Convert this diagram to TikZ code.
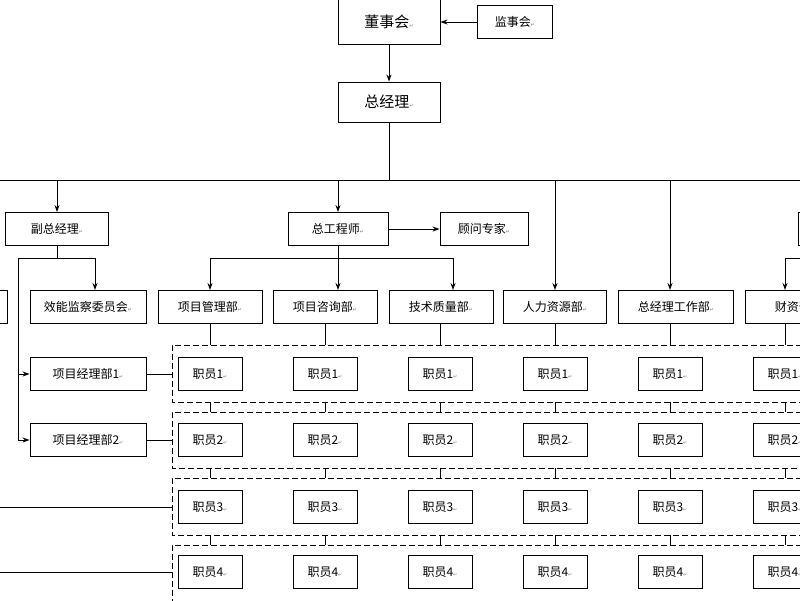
\documentclass[tikz,border=0pt]{standalone}
\usepackage{fontspec}
\setmainfont{Noto Sans CJK SC}
\newfontfamily\djv{DejaVu Sans}
\usetikzlibrary{arrows.meta}
\newcommand{\rt}{{\djv\tiny\color{gray}↵}}
\begin{document}
\begin{tikzpicture}[x=1pt,y=-1pt,
  bx/.style={draw,line width=0.9pt,minimum height=33pt,inner sep=0pt,font=\fontsize{12}{12}\selectfont,fill=white},
  big/.style={bx,minimum width=102pt,minimum height=40pt,font=\fontsize{15}{15}\selectfont},
  ln/.style={line width=0.9pt},
  ar/.style={ln,-{Stealth[length=7pt,width=5pt]}},
  dsh/.style={line width=0.9pt,dash pattern=on 6pt off 3pt}]
\useasboundingbox (0,0) rectangle (800,600);
% dashed rows
\foreach \a/\b in {345/402,412/468,478/535,545/605}
  \draw[dsh] (820,\a) -- (172,\a) -- (172,\b) -- (820,\b);
\node[big,minimum height=45pt] (dsh) at (389,22) {董事会\rt};
\node[bx,minimum width=75pt] (jsh) at (515,22) {监事会\rt};
\node[big] (zjl) at (389,102) {总经理\rt};
\draw[ar] (jsh) -- (dsh);
\draw[ar] (dsh) -- (zjl);
\coordinate (t) at (389,180);
\draw[ln] (zjl) -- (t);
\draw[ln] (-5,180) -- (810,180);
\node[bx,minimum width=103pt] (fz) at (57,229) {副总经理\rt};
\node[bx,minimum width=100pt] (zgc) at (338,229) {总工程师\rt};
\node[bx,minimum width=88pt] (gw) at (484,229) {顾问专家\rt};
\node[bx,minimum width=40pt] (rx) at (818,229) {};
\draw[ar] (57,180) -- (fz);
\draw[ar] (338,180) -- (zgc);
\draw[ar] (zgc) -- (gw);
\draw[ln] (800,180) -- (800,212);
% departments
\node[bx,minimum width=116pt] (xn) at (88,307) {效能监察委员会\rt};
\node[bx,minimum width=20pt] (lx) at (-3,307) {};
\foreach \n/\x/\w/\t in {d1/210/104/项目管理部,d2/325/104/项目咨询部,d3/441/104/技术质量部,d4/555/103/人力资源部,d5/676/115/总经理工作部,d6/795/100/财资部}
  \node[bx,minimum width=\w pt] (\n) at (\x,307) {\t\rt};
\draw[ln] (fz) -- (57,258);
\draw[ln] (18,258) -- (95,258);
\draw[ar] (95,258) -- (95,290);
\draw[ln] (18,258) -- (18,440);
\node[bx,minimum width=116pt] (p1) at (88,374) {项目经理部1\rt};
\node[bx,minimum width=116pt] (p2) at (88,440) {项目经理部2\rt};
\draw[ar] (18,374) -- (p1);
\draw[ar] (18,440) -- (p2);
\draw[ln] (zgc) -- (338,258);
\draw[ln] (210,258) -- (453,258);
\draw[ar] (210,258) -- (d1);
\draw[ar] (338,258) -- (338,290);
\draw[ar] (453,258) -- (453,290);
\draw[ar] (555,180) -- (d4);
\draw[ar] (670,180) -- (670,290);
\draw[ln] (800,245) -- (800,258) -- (785,258);
\draw[ar] (785,258) -- (785,290);
% staff
\foreach \c [count=\k] in {210,325,440,555,670,785}{
  \node[bx,minimum width=64pt] (s1\k) at (\c,374) {职员1\rt};
  \node[bx,minimum width=64pt] (s2\k) at (\c,440) {职员2\rt};
  \node[bx,minimum width=64pt] (s3\k) at (\c,507) {职员3\rt};
  \node[bx,minimum width=64pt] (s4\k) at (\c,572) {职员4\rt};
  \draw[ln] (\c,323.5) -- (\c,345);
  \draw[ln] (\c,402) -- (\c,412);
  \draw[ln] (\c,468) -- (\c,478);
  \draw[ln] (\c,535) -- (\c,545);
}
\draw[ln] (p1) -- (172,374);
\draw[ln] (p2) -- (172,440);
\draw[ln] (-5,507) -- (172,507);
\draw[ln] (-5,572) -- (172,572);
\end{tikzpicture}
\end{document}
